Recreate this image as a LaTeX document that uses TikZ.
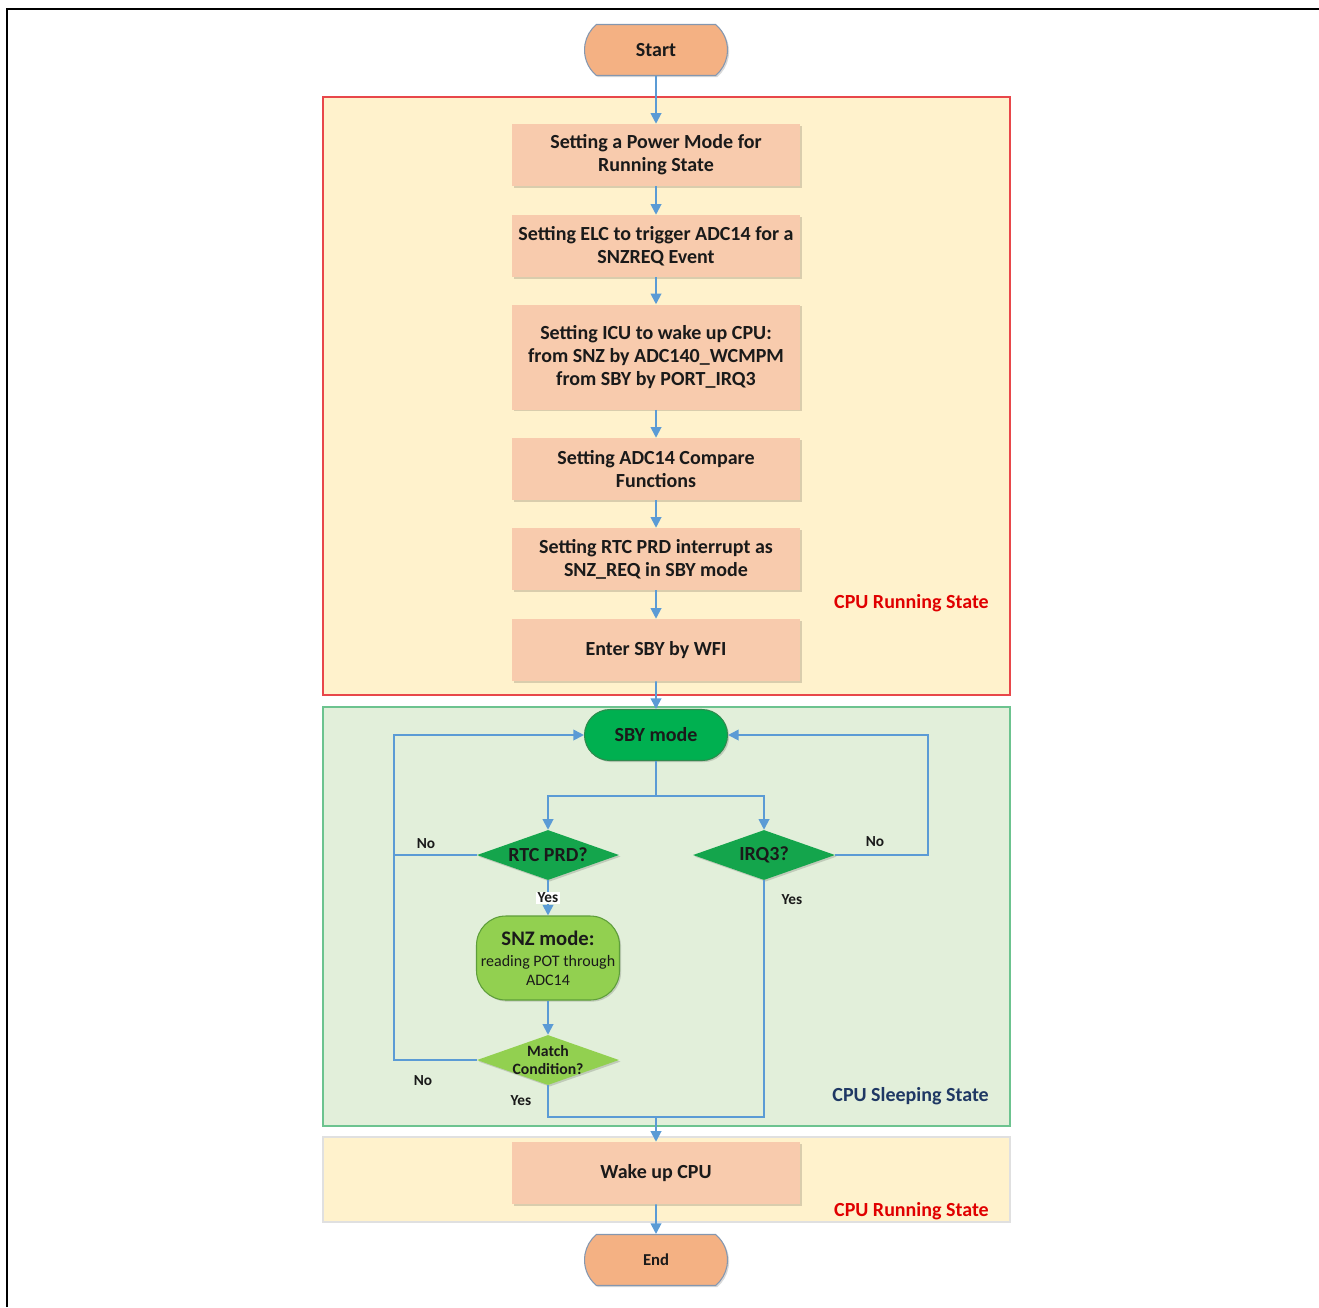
\documentclass[tikz,border=0pt]{standalone}
\usepackage{fontspec}
\setmainfont{Carlito}
\usetikzlibrary{arrows.meta,shapes.geometric,shapes.misc,shadows}
\definecolor{boxfill}{HTML}{F8CBAD}
\definecolor{termfill}{HTML}{F4B183}
\definecolor{termdraw}{HTML}{8497B0}
\definecolor{yellowbg}{HTML}{FFF2CC}
\definecolor{redline}{HTML}{E8474A}
\definecolor{greenbg}{HTML}{E2EFDA}
\definecolor{greenline}{HTML}{6CC38F}
\definecolor{sbyfill}{HTML}{00B050}
\definecolor{sbydraw}{HTML}{2E8B4E}
\definecolor{diafill}{HTML}{14A54C}
\definecolor{lightgreen}{HTML}{92D050}
\definecolor{lgdraw}{HTML}{5E9E3A}
\definecolor{arrowblue}{HTML}{5B9BD5}
\definecolor{redtext}{HTML}{E00000}
\definecolor{navytext}{HTML}{1F3864}
\definecolor{txt}{HTML}{1A1A1A}
\begin{document}
\begin{tikzpicture}[x=0.75pt,y=-0.75pt,
  shad/.style={drop shadow={shadow xshift=1.2pt,shadow yshift=-1.2pt,fill=black,opacity=0.15}},
  stepbox/.style={rectangle,fill=boxfill,minimum width=216pt,inner sep=2pt,align=center,
    text=txt,font=\fontsize{15}{17.25}\selectfont\bfseries,shad},
  term/.style={rounded rectangle,rounded rectangle arc length=100,fill=termfill,draw=termdraw,line width=0.8pt,
    minimum width=107.25pt,minimum height=38.25pt,inner sep=0pt,text=txt,shad},
  sbynode/.style={rounded rectangle,fill=sbyfill,draw=sbydraw,line width=0.8pt,
    minimum width=107.25pt,minimum height=38.25pt,inner sep=0pt,text=txt,
    font=\fontsize{15}{18}\selectfont\bfseries,shad},
  dia/.style={diamond,inner sep=0pt,minimum width=106.5pt,minimum height=37.5pt},
  diatext/.style={text=txt,align=center,inner sep=0pt},
  arr/.style={draw=arrowblue,line width=1.4pt,-{Triangle[width=8pt,length=8pt]}},
  ln/.style={draw=arrowblue,line width=1.4pt},
  lbl/.style={text=txt,font=\fontsize{11.5}{13}\selectfont\bfseries,inner sep=1pt},
  statelbl/.style={anchor=east,font=\fontsize{15}{18}\selectfont\bfseries,inner sep=0pt}
]
\useasboundingbox (0,0) rectangle (1319,1307);
\draw[line width=2pt] (7,1307) -- (7,9) -- (1319,9);

% containers
\draw[fill=yellowbg,draw=redline,line width=1pt] (323,97) rectangle (1010,695);
\draw[fill=greenbg,draw=greenline,line width=1.2pt] (323,707) rectangle (1010,1126);
\draw[fill=yellowbg,draw=black!12,line width=0.8pt] (323,1137) rectangle (1010,1222);

% nodes
\node[term,font=\fontsize{15}{18}\selectfont\bfseries] (start) at (656,50) {Start};
\node[stepbox,minimum height=46.5pt] (b1) at (656,155) {Setting a Power Mode for\\Running State};
\node[stepbox,minimum height=46.5pt] (b2) at (656,246) {Setting ELC to trigger ADC14 for a\\SNZREQ Event};
\node[stepbox,minimum height=78.75pt] (b3) at (656,357) {Setting ICU to wake up CPU:\\from SNZ by ADC140\_WCMPM\\from SBY by PORT\_IRQ3};
\node[stepbox,minimum height=46.5pt] (b4) at (656,469) {Setting ADC14 Compare\\Functions};
\node[stepbox,minimum height=46.5pt] (b5) at (656,559) {Setting RTC PRD interrupt as\\SNZ\_REQ in SBY mode};
\node[stepbox,minimum height=46.5pt] (b6) at (656,650) {Enter SBY by WFI};

\node[sbynode] (sby) at (656,735) {SBY mode};
\node[dia,fill=diafill,shad] (rtc) at (548,855) {};
\node[diatext,font=\fontsize{15}{18}\selectfont\bfseries] (rtct) at (rtc.center) {RTC PRD?};
\node[dia,fill=diafill,shad] (irq) at (764,855) {};
\node[diatext,font=\fontsize{15}{18}\selectfont\bfseries] (irqt) at (irq.center) {IRQ3?};

\node[rectangle,rounded corners=22pt,fill=lightgreen,draw=lgdraw,line width=0.8pt,
  minimum width=107.25pt,minimum height=63pt,inner sep=0pt,text=txt,align=center,
  font=\fontsize{12}{14}\selectfont,shad] (snz) at (548,958)
  {{\fontsize{15.5}{18}\selectfont\bfseries SNZ mode:}\\[2pt]reading POT through\\ADC14};
\node[dia,fill=lightgreen,shad] (match) at (548,1060) {};
\node[diatext,font=\fontsize{11.8}{13.5}\selectfont\bfseries] (matcht) at (match.center) {Match\\Condition?};

\node[stepbox,minimum height=46.5pt] (wake) at (656,1173) {Wake up CPU};
\node[term,font=\fontsize{12.5}{14}\selectfont\bfseries] (end) at (656,1260) {End};

% state labels
\node[statelbl,text=redtext] (s1) at (989,603) {CPU Running State};
\node[statelbl,text=navytext] (s2) at (989,1096) {CPU Sleeping State};
\node[statelbl,text=redtext] (s3) at (989,1211) {CPU Running State};

% coordinates
\coordinate (split) at (656,796);
\coordinate (rloop) at (928,855);
\coordinate (lloop) at (394,1060);
\coordinate (merge) at (656,1117);

% connectors
\draw[arr] (start) -- (b1);
\draw[arr] (b1) -- (b2);
\draw[arr] (b2) -- (b3);
\draw[arr] (b3) -- (b4);
\draw[arr] (b4) -- (b5);
\draw[arr] (b5) -- (b6);
\draw[arr] (b6) -- (sby);
\draw[ln] (sby.south) -- (split);
\draw[arr] (split) -| (rtc.north);
\draw[arr] (split) -| (irq.north);
\draw[arr] (irq.east) -- (rloop) |- (sby.east);
\draw[arr] (match.west) -- (lloop) |- (sby.west);
\draw[ln] (rtc.west) -- (rtc.west -| lloop);
\draw[arr] (rtc.south) -- (snz.north);
\draw[arr] (snz.south) -- (match.north);
\draw[ln] (match.south) |- (merge);
\draw[ln] (irq.south) |- (merge);
\draw[arr] (merge) -- (wake);
\draw[arr] (wake) -- (end);

% connector labels
\node[lbl,fill=white] (y1) at (548,898) {Yes};
\node[lbl] (y2) at (792,900) {Yes};
\node[lbl] (y3) at (521,1101) {Yes};
\node[lbl] (n1) at (426,844) {No};
\node[lbl] (n2) at (875,842) {No};
\node[lbl] (n3) at (423,1081) {No};
\end{tikzpicture}
\end{document}
